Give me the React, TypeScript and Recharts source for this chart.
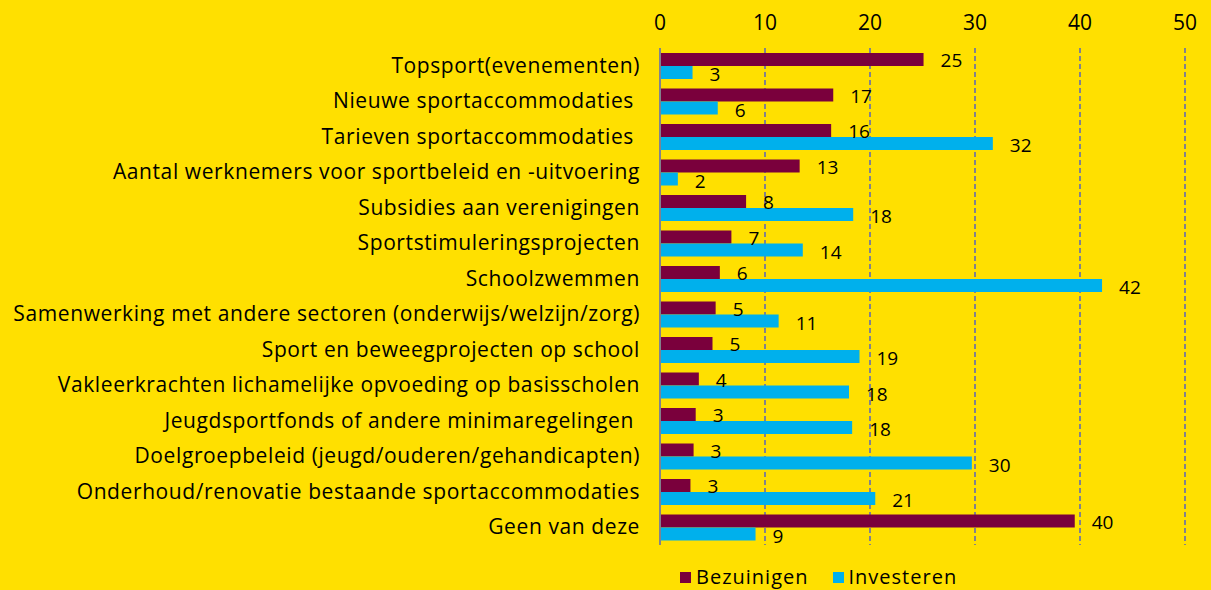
import { BarChart, Bar, XAxis, YAxis, CartesianGrid, LabelList, Legend } from "recharts";

const categories = [
  "Topsport(evenementen)",
  "Nieuwe sportaccommodaties ",
  "Tarieven sportaccommodaties ",
  "Aantal werknemers voor sportbeleid en -uitvoering",
  "Subsidies aan verenigingen",
  "Sportstimuleringsprojecten",
  "Schoolzwemmen",
  "Samenwerking met andere sectoren (onderwijs/welzijn/zorg)",
  "Sport en beweegprojecten op school",
  "Vakleerkrachten lichamelijke opvoeding op basisscholen",
  "Jeugdsportfonds of andere minimaregelingen ",
  "Doelgroepbeleid (jeugd/ouderen/gehandicapten)",
  "Onderhoud/renovatie bestaande sportaccommodaties",
  "Geen van deze",
];

const bezuinigen = [25.1, 16.5, 16.3, 13.3, 8.2, 6.8, 5.7, 5.3, 5.0, 3.7, 3.4, 3.2, 2.9, 39.5];
const investeren = [3.1, 5.5, 31.7, 1.7, 18.4, 13.6, 42.1, 11.3, 19.0, 18.0, 18.3, 29.7, 20.5, 9.1];

const xTicks = [0, 10, 20, 30, 40, 50];

const BG = "#FFE000";
const MAROON = "#7A003C";
const CYAN = "#00B0EC";
const GRID = "#82828C";
const FONT = "'Open Sans', sans-serif";

const data = categories.map((name, i) => ({
  name,
  bezuinigen: bezuinigen[i],
  investeren: investeren[i],
}));

const CategoryTick = ({ x, y, payload }: any) => (
  <text
    x={x}
    y={y}
    dy={7}
    textAnchor="end"
    fill="#000"
    fontSize={21}
    letterSpacing={0.6}
    fontFamily={FONT}
    style={{ whiteSpace: "pre" }}
  >
    {payload.value}
  </text>
);

const LegendContent = () => (
  <div
    style={{
      display: "flex",
      alignItems: "center",
      fontFamily: FONT,
      fontSize: 20,
      letterSpacing: 1,
      color: "#000",
      lineHeight: "26px",
    }}
  >
    <span style={{ width: 11, height: 11, background: MAROON, display: "inline-block", marginRight: 5 }} />
    <span style={{ marginRight: 24 }}>Bezuinigen</span>
    <span style={{ width: 11, height: 11, background: CYAN, display: "inline-block", marginRight: 5 }} />
    <span>Investeren</span>
  </div>
);

const roundLabel = (v: any) => Math.round(Number(v));

export default function App() {
  return (
    <div style={{ width: 1211, height: 590, background: BG, position: "relative" }}>
      <style>{`body { margin: 0; background: ${BG}; }`}</style>
      <BarChart
        width={1211}
        height={590}
        data={data}
        layout="vertical"
        margin={{ top: 0, right: 26, bottom: 45, left: 0 }}
        barCategoryGap={5}
        barGap={0}
        barSize={13}
      >
        <CartesianGrid horizontal={false} stroke={GRID} strokeDasharray="5 3" strokeWidth={2} />
        <XAxis
          type="number"
          orientation="top"
          domain={[0, 50]}
          ticks={xTicks}
          height={48}
          axisLine={false}
          tickLine={false}
          tickMargin={12}
          tick={{ fill: "#000", fontSize: 21, fontFamily: FONT }}
        />
        <YAxis
          type="category"
          dataKey="name"
          width={660}
          axisLine={{ stroke: GRID, strokeWidth: 2 }}
          tickLine={false}
          tickMargin={14}
          tick={<CategoryTick />}
          interval={0}
        />
        <Legend
          layout="vertical"
          align="center"
          verticalAlign="middle"
          content={<LegendContent />}
          wrapperStyle={{ top: 564, left: 680, width: "auto", height: "auto" }}
        />
        <Bar dataKey="bezuinigen" name="Bezuinigen" fill={MAROON} isAnimationActive={false}>
          <LabelList
            dataKey="bezuinigen"
            position="right"
            offset={17}
            formatter={roundLabel}
            fill="#000"
            fontSize={19}
            fontFamily={FONT}
            dy={1}
          />
        </Bar>
        <Bar dataKey="investeren" name="Investeren" fill={CYAN} isAnimationActive={false}>
          <LabelList
            dataKey="investeren"
            position="right"
            offset={17}
            formatter={roundLabel}
            fill="#000"
            fontSize={19}
            fontFamily={FONT}
            dy={2}
          />
        </Bar>
      </BarChart>
    </div>
  );
}
